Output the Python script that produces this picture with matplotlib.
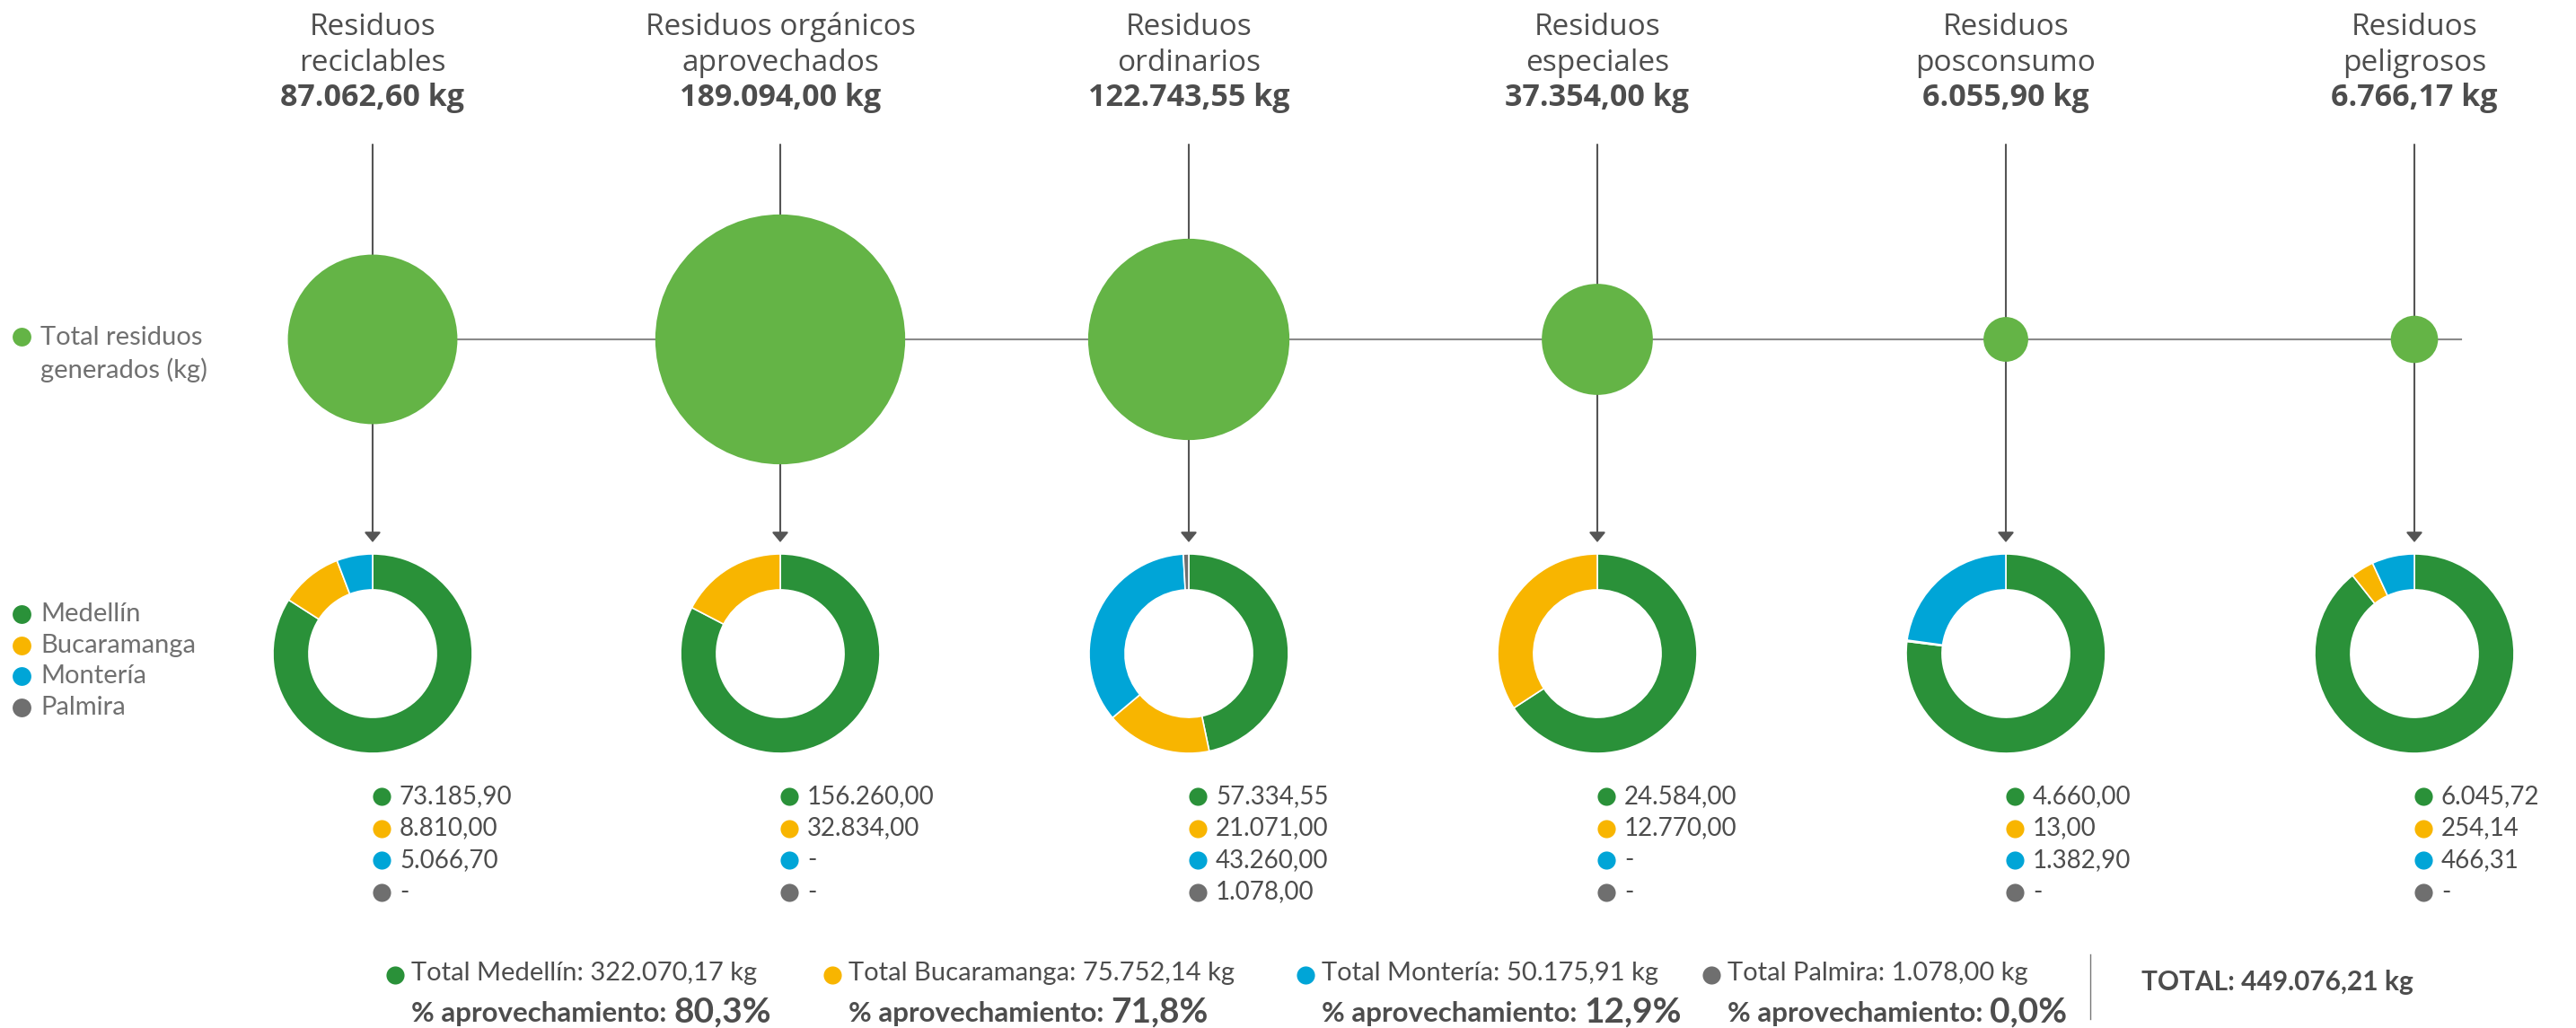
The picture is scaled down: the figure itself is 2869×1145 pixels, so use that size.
import matplotlib
matplotlib.use('Agg')
import matplotlib.pyplot as plt
from matplotlib.patches import Circle

plt.rcParams['font.family'] = ['Lato', 'DejaVu Sans']

# datos
categorias = [('Residuos', 'reciclables'), ('Residuos orgánicos', 'aprovechados'),
              ('Residuos', 'ordinarios'), ('Residuos', 'especiales'),
              ('Residuos', 'posconsumo'), ('Residuos', 'peligrosos')]
totales_categoria = [87062.60, 189094.00, 122743.55, 37354.00, 6055.90, 6766.17]
ciudades = ['Medellín', 'Bucaramanga', 'Montería', 'Palmira']
medellin = [73185.90, 156260.00, 57334.55, 24584.00, 4660.00, 6045.72]
bucaramanga = [8810.00, 32834.00, 21071.00, 12770.00, 13.00, 254.14]
monteria = [5066.70, 0, 43260.00, 0, 1382.90, 466.31]
palmira = [0, 0, 1078.00, 0, 0, 0]
totales_ciudad = [322070.17, 75752.14, 50175.91, 1078.00]
aprovechamiento = [80.3, 71.8, 12.9, 0.0]
total_general = 449076.21

verde_claro = '#64B446'
colores = ['#2A9139', '#F8B500', '#00A5D7', '#6F6F6F']
gris_texto = '#4D4D4D'
gris_leyenda = '#707070'
fuente_titulo = ['Open Sans', 'DejaVu Sans']

W, H = 2869, 1145
col_x = [415, 869, 1324, 1779, 2234, 2689]
y_linea = 378
y_dona = 728
r_dona = 111
k_radio = 0.32


def fmt(v, dec=2):
    if v == 0:
        return '-'
    s = f'{v:,.{dec}f}'
    return s.replace(',', 'X').replace('.', ',').replace('X', '.')


def pct(v):
    return f'{v:.1f}'.replace('.', ',') + '%'


fig = plt.figure(figsize=(W / 100, H / 100), dpi=100)
ax = fig.add_axes([0, 0, 1, 1])
ax.set_xlim(0, W)
ax.set_ylim(H, 0)
ax.set_aspect('equal')
ax.axis('off')

# linea horizontal
ax.plot([col_x[0], 2741], [y_linea, y_linea], color='#8A8A8A', lw=1.5, zorder=1)

serie = [medellin, bucaramanga, monteria, palmira]
for i, cx in enumerate(col_x):
    l1, l2 = categorias[i]
    ax.text(cx, 39, l1, ha='center', va='baseline', fontsize=24, color=gris_texto,
            family=fuente_titulo)
    ax.text(cx, 79, l2, ha='center', va='baseline', fontsize=24, color=gris_texto,
            family=fuente_titulo)
    ax.text(cx, 118, fmt(totales_categoria[i]) + ' kg', ha='center', va='baseline',
            fontsize=24.5, fontweight='bold', color=gris_texto, family=fuente_titulo)
    ax.annotate('', xy=(cx, 604), xytext=(cx, 161),
                arrowprops=dict(arrowstyle='-|>,head_length=0.3,head_width=0.25',
                                color='#555555', lw=1.5, mutation_scale=22,
                                shrinkA=0, shrinkB=0), zorder=1)
    ax.add_patch(Circle((cx, y_linea), k_radio * totales_categoria[i] ** 0.5,
                        color=verde_claro, zorder=2, lw=0))

    vals = [s[i] for s in serie]
    dax = fig.add_axes([(cx - r_dona) / W, 1 - (y_dona + r_dona) / H,
                        2 * r_dona / W, 2 * r_dona / H])
    nz = [j for j, v in enumerate(vals) if v > 0]
    dax.pie([vals[j] for j in nz], colors=[colores[j] for j in nz], startangle=90,
            counterclock=False, radius=1,
            wedgeprops=dict(width=0.36, edgecolor='white', linewidth=1.2))
    dax.set_xlim(-1, 1)
    dax.set_ylim(-1, 1)
    dax.axis('off')

    for j, v in enumerate(vals):
        yy = 887 + j * 35.5
        ax.plot(cx + 10, yy, 'o', ms=14.5, color=colores[j], mec='none')
        ax.text(cx + 30, yy, fmt(v), ha='left', va='center', fontsize=20,
                color=gris_texto)

# leyendas izquierda
ax.plot(24, 375, 'o', ms=15, color=verde_claro, mec='none')
ax.text(45, 376, 'Total residuos', ha='left', va='center', fontsize=21, color=gris_leyenda)
ax.text(45, 412, 'generados (kg)', ha='left', va='center', fontsize=21, color=gris_leyenda)
for j, c in enumerate(ciudades):
    yy = 684 + j * 34.5
    ax.plot(24, yy, 'o', ms=15, color=colores[j], mec='none')
    ax.text(45, yy, c, ha='left', va='center', fontsize=21, color=gris_leyenda)

# totales por ciudad
dot_x = [440, 927, 1454, 1906]
fig.canvas.draw()
renderer = fig.canvas.get_renderer()
inv = ax.transData.inverted()
for j, c in enumerate(ciudades):
    ax.plot(dot_x[j], 1086, 'o', ms=14.5, color=colores[j], mec='none')
    ax.text(dot_x[j] + 18, 1084, f'Total {c}: {fmt(totales_ciudad[j])} kg', ha='left',
            va='center', fontsize=21, color=gris_texto)
    t = ax.text(dot_x[j] + 18, 1138, '% aprovechamiento: ', ha='left', va='baseline',
                fontsize=22.5, fontweight='bold', color=gris_texto)
    bb = t.get_window_extent(renderer)
    x_end = inv.transform((bb.x1, bb.y0))[0]
    ax.text(x_end, 1138, pct(aprovechamiento[j]), ha='left', va='baseline',
            fontsize=28, fontweight='bold', color=gris_texto)

ax.plot([2328, 2328], [1063, 1135], color='#777777', lw=1)
ax.text(2385, 1094, f'TOTAL: {fmt(total_general)} kg', ha='left', va='center',
        fontsize=21.5, fontweight='bold', color=gris_texto)

fig.savefig('out.png', dpi=100)
